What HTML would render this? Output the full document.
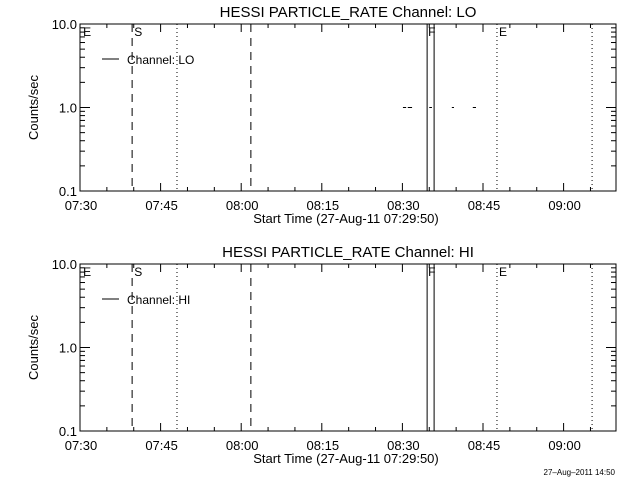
<!DOCTYPE html>
<html><head><meta charset="utf-8"><style>
html,body{margin:0;padding:0;background:#fff;}
svg{display:block;font-family:"Liberation Sans","DejaVu Sans",sans-serif;}
</style></head><body>
<svg id="c" width="640" height="480" viewBox="0 0 640 480">
<rect x="0" y="0" width="640" height="480" fill="#fff"/>
<text x="615" y="475" font-size="8" text-anchor="end">27–Aug–2011 14:50</text>
</svg>
<script>
// data
const channels = ["LO", "HI"];
const tickLabels = ["07:30","07:45","08:00","08:15","08:30","08:45","09:00"];
const tickMinutes = [0,15,30,45,60,75,90];
const yTickValues = [0.1, 1.0, 10.0];
const yTickLabels = ["0.1","1.0","10.0"];
const dashedMarkers = [9.7, 31.8];          // minutes after 07:30
const dottedMarkers = [18.05, 77.6, 95.3];
const solidMarkers = [64.6, 65.9];
const flagLabels = ["E","S","F","E"];
const flagMinutes = [0.4, 9.9, 64.6, 77.8];
const loSegStart = [60.1, 61.0, 65.0, 69.2, 73.1];
const loSegEnd   = [60.7, 61.8, 65.5, 69.6, 73.7];
const loSegValue = [1.0, 1.0, 1.0, 1.0, 1.0];

const svg = document.getElementById('c');
const NS = 'http://www.w3.org/2000/svg';
const X0 = 80, X1 = 616, PXPERMIN = 80.6/15;
function xs(m){ return X0 + m*PXPERMIN; }
function mk(tag, attrs){ const e=document.createElementNS(NS,tag); for(const k in attrs) e.setAttribute(k,attrs[k]); svg.appendChild(e); return e; }

channels.forEach((ch, p) => {
  const top = 24 + p*240, bot = 191 + p*240;
  const ys = v => bot - (Math.log10(v) + 1) * (bot-top)/2;
  const t = mk('text',{x:348,y:top-7,'font-size':15,'text-anchor':'middle'});
  t.textContent = 'HESSI PARTICLE_RATE Channel: ' + ch;
  
  
  const fr = mk('rect',{x:X0,y:top,width:X1-X0,height:bot-top,fill:'none',stroke:'#000','stroke-width':1});
  
  
  for (let m=0; m*PXPERMIN <= X1-X0; m+=5){
    const major = m%15===0, len = major?8:4, x=xs(m);
    const a = mk('line',{x1:x,x2:x,y1:bot,y2:bot-len,stroke:'#000'});
    
    
    const b = mk('line',{x1:x,x2:x,y1:top,y2:top+len,stroke:'#000'});
    
    
  }
  tickLabels.forEach((lab,i)=>{
    const tx = mk('text',{x:xs(tickMinutes[i])+1,y:bot+19,'font-size':13,'text-anchor':'middle'});
    tx.textContent = lab;
    
    
  });
  for (let d=-1; d<=1; d++){
    for (let k=1; k<=9; k++){
      const v = k*Math.pow(10,d); if (v>10.001) continue;
      const y = ys(v), len = k===1?10:5;
      const a = mk('line',{x1:X0,x2:X0+len,y1:y,y2:y,stroke:'#000'});
      
      
      const b = mk('line',{x1:X1,x2:X1-len,y1:y,y2:y,stroke:'#000'});
      
      
    }
  }
  yTickValues.forEach((v,i)=>{
    const ty = mk('text',{x:X0-3,y:ys(v)+5,'font-size':13,'text-anchor':'end'});
    ty.textContent = yTickLabels[i];
    
    
  });
  const yt = mk('text',{x:38,y:(top+bot)/2,'font-size':13,'text-anchor':'middle',transform:`rotate(-90 38 ${(top+bot)/2})`});
  yt.textContent = 'Counts/sec';
  
  
  const xt = mk('text',{x:346,y:bot+32,'font-size':13,'text-anchor':'middle'});
  xt.textContent = 'Start Time (27-Aug-11 07:29:50)';
  
  
  dashedMarkers.forEach(m=>{
    const l = mk('line',{x1:xs(m),x2:xs(m),y1:top,y2:bot,stroke:'#000','stroke-dasharray':'8 6'});
    
    
  });
  dottedMarkers.forEach(m=>{
    const l = mk('line',{x1:xs(m),x2:xs(m),y1:top,y2:bot,stroke:'#000','stroke-dasharray':'1 3'});
    
    
  });
  solidMarkers.forEach(m=>{
    const l = mk('line',{x1:xs(m),x2:xs(m),y1:top,y2:bot,stroke:'#000'});
    
    
  });
  flagLabels.forEach((f,i)=>{
    const ft = mk('text',{x:xs(flagMinutes[i])+1,y:top+12,'font-size':12});
    ft.textContent = f;
    
    
  });
  if (ch === 'LO'){
    loSegStart.forEach((s,i)=>{
      const y = ys(loSegValue[i]);
      const l = mk('line',{x1:xs(s),x2:xs(loSegEnd[i]),y1:y,y2:y,stroke:'#000'});
      
      
    });
  }
  const ll = mk('line',{x1:102,x2:119,y1:top+35,y2:top+35,stroke:'#000'});
  
  
  const lt = mk('text',{x:127,y:top+40,'font-size':12});
  lt.textContent = 'Channel: ' + ch;
  
  
});
</script>
</body></html>
